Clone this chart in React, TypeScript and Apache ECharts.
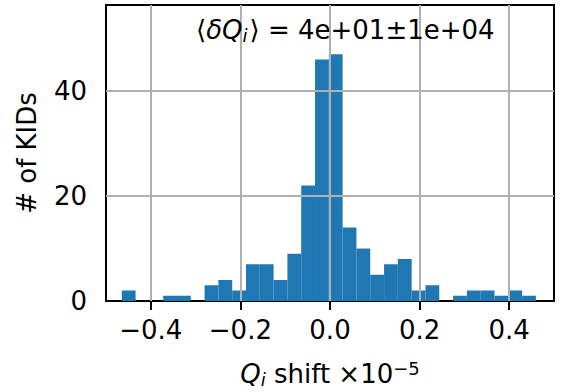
import React, { useEffect, useRef } from "react";
import * as echarts from "echarts";

// Histogram of Qi shift (x 1e-5)
const binStart = -0.4648;
const binEnd = 0.4596;
const counts = [2, 0, 0, 1, 1, 0, 3, 4, 2, 7, 7, 4, 9, 22, 46, 47, 14, 10, 5, 7, 8, 2, 3, 0, 1, 2, 2, 1, 2, 1];
const xTicks = [-0.4, -0.2, 0, 0.2, 0.4];
const yTicks = [0, 20, 40];
const xRange = [-0.5, 0.5];
const yRange = [0, 56.4];
const annotationValue = "4e+01±1e+04";

const FONT = "DejaVu Sans";
const BAR = "#1f77b4";
const GRID = "#b0b0b0";

export default function App() {
  const ref = useRef<HTMLDivElement>(null);
  useEffect(() => {
    if (!ref.current) return;
    const chart = echarts.init(ref.current, undefined, { renderer: "svg" });
    const nb = counts.length;
    const w = (binEnd - binStart) / nb;
    const data = counts.map((c, i) => [binStart + i * w, binStart + (i + 1) * w, c]);
    const fmt = (v: number) => {
      const s = Math.abs(v) < 1e-9 ? "0.0" : v.toFixed(1);
      return s.replace("-", "\u2212");
    };
    chart.setOption({
      animation: false,
      grid: {
        left: 106,
        right: 7,
        top: 5,
        bottom: 91,
        show: true,
        borderColor: "#000",
        borderWidth: 2,
        backgroundColor: "transparent",
      },
      xAxis: {
        type: "value",
        min: xRange[0],
        max: xRange[1],
        splitLine: { show: false },
        axisLine: { show: true, onZero: false, lineStyle: { color: "#000", width: 2 } },
        axisTick: { show: true, length: 9, customValues: xTicks, lineStyle: { color: "#000", width: 2 } },
        axisLabel: {
          customValues: xTicks,
          formatter: (v: number) => fmt(v),
          color: "#000",
          fontFamily: FONT,
          fontSize: 26,
          margin: 16,
        },
      },
      yAxis: {
        type: "value",
        min: yRange[0],
        max: yRange[1],
        splitLine: { show: false },
        axisLine: { show: true, lineStyle: { color: "#000", width: 2 } },
        axisTick: { show: true, length: 9, customValues: yTicks, lineStyle: { color: "#000", width: 2 } },
        axisLabel: {
          customValues: yTicks,
          formatter: (v: number) => String(v),
          color: "#000",
          fontFamily: FONT,
          fontSize: 26,
          margin: 19,
        },
      },
      series: [
        {
          type: "custom",
          data,
          encode: { x: [0, 1], y: 2 },
          renderItem: (params: any, api: any) => {
            const p0 = api.coord([api.value(0), 0]);
            const p1 = api.coord([api.value(1), api.value(2)]);
            return {
              type: "rect",
              shape: { x: p0[0], y: p1[1], width: p1[0] - p0[0], height: p0[1] - p1[1] },
              style: { fill: BAR },
            };
          },
          markLine: {
            silent: true,
            symbol: "none",
            label: { show: false },
            lineStyle: { color: GRID, width: 2, type: "solid" },
            data: [
              ...xTicks.map((v) => ({ xAxis: v })),
              ...yTicks.filter((v) => v > 0).map((v) => ({ yAxis: v })),
            ],
          },
        },
      ],
      graphic: [
        {
          type: "text",
          left: 196,
          top: 17,
          z: 100,
          style: {
            text: "{n|⟨}{i|δQ}{s|i}{n|⟩ = " + annotationValue + "}",
            fill: "#000",
            rich: {
              n: { fontFamily: FONT, fontSize: 26, fill: "#000" },
              i: { fontFamily: FONT, fontSize: 26, fontStyle: "italic", fill: "#000" },
              s: { fontFamily: FONT, fontSize: 18, fontStyle: "italic", fill: "#000", padding: [10, 2, 0, 0] },
            },
          },
        },
        {
          type: "text",
          x: 330,
          y: 374,
          z: 100,
          style: {
            text: "{i|Q}{s|i}{n| shift ×10}{p|−5}",
            align: "center",
            verticalAlign: "middle",
            fill: "#000",
            rich: {
              n: { fontFamily: FONT, fontSize: 26, fill: "#000" },
              i: { fontFamily: FONT, fontSize: 26, fontStyle: "italic", fill: "#000" },
              s: { fontFamily: FONT, fontSize: 18, fontStyle: "italic", fill: "#000", padding: [10, 0, 0, 0] },
              p: { fontFamily: FONT, fontSize: 18, fill: "#000", padding: [0, 0, 12, 0] },
            },
          },
        },
        {
          type: "text",
          x: 27,
          y: 153,
          rotation: Math.PI / 2,
          z: 100,
          style: {
            text: "# of KIDs",
            align: "center",
            verticalAlign: "middle",
            fontFamily: FONT,
            fontSize: 26,
            fill: "#000",
          },
        },
      ],
    });
    return () => chart.dispose();
  }, []);
  return (
    <div
      ref={ref}
      style={{ position: "absolute", left: 0, top: 0, width: 561, height: 392, background: "#fff" }}
    />
  );
}
